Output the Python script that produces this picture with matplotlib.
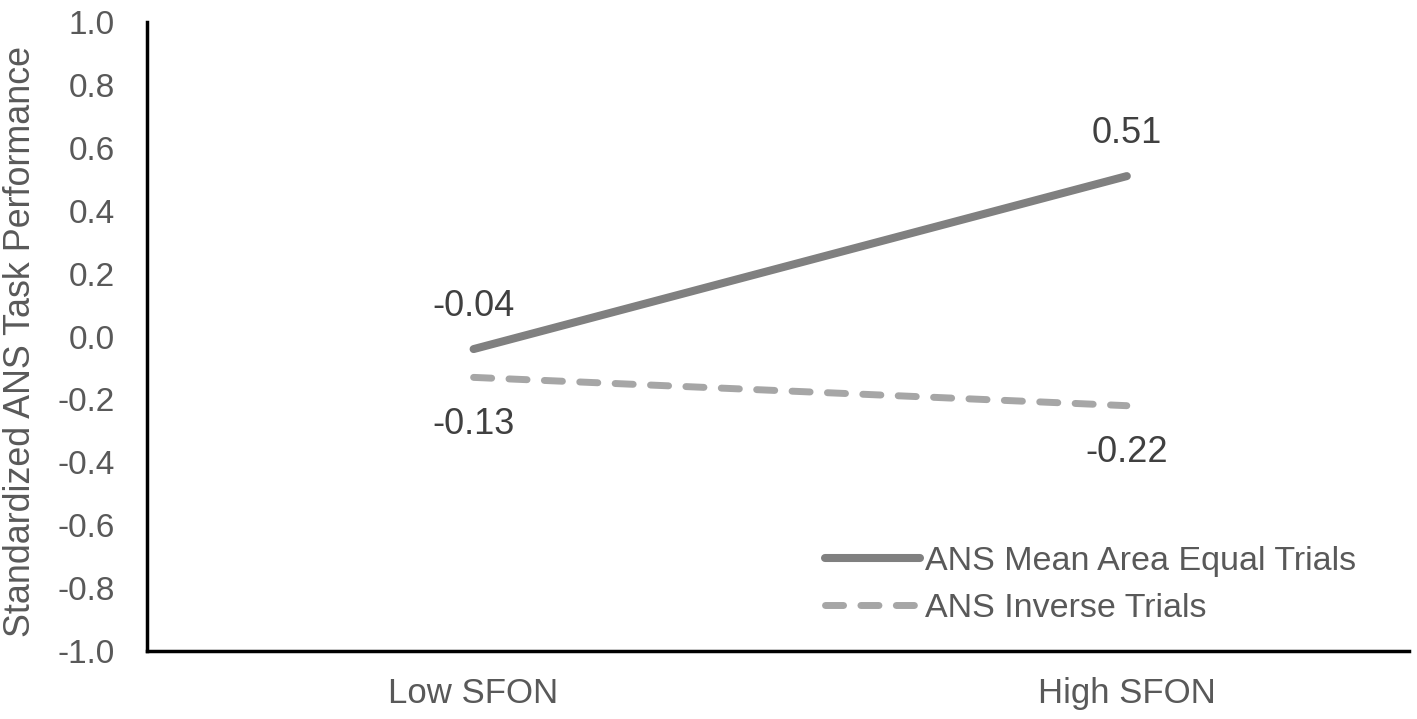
import matplotlib
matplotlib.use("Agg")
import matplotlib.pyplot as plt

categories = ["Low SFON", "High SFON"]
mean_area_equal = [-0.04, 0.51]
inverse = [-0.13, -0.22]
series_names = ["ANS Mean Area Equal Trials", "ANS Inverse Trials"]
yticks = [-1.0, -0.8, -0.6, -0.4, -0.2, 0.0, 0.2, 0.4, 0.6, 0.8, 1.0]

plt.rcParams['font.family'] = ['Liberation Sans', 'DejaVu Sans']
txt = '#595959'

W, H = 1417, 719
fig = plt.figure(figsize=(W / 100, H / 100), dpi=100)
ax = fig.add_axes([147/W, 1 - 651/H, (1409 - 147)/W, (651 - 22)/H])

x = list(range(len(categories)))
ax.plot(x, mean_area_equal, color='#808080', lw=5.8, solid_capstyle='round',
        label=series_names[0])
ax.plot(x, inverse, color='#a6a6a6', lw=5, dashes=(2.6, 2.5), dash_capstyle='round',
        label=series_names[1])

for xi, v in zip(x, mean_area_equal):
    ax.annotate(f"{v:.2f}", (xi, v), xytext=(0, 31), textcoords='offset points',
                ha='center', va='center', fontsize=26, color='#404040')
for xi, v in zip(x, inverse):
    ax.annotate(f"{v:.2f}", (xi, v), xytext=(0, -34), textcoords='offset points',
                ha='center', va='center', fontsize=26, color='#404040')

ax.set_xlim(-0.5, 1.432)
ax.set_ylim(-1.0, 1.0)
ax.set_xticks(x)
ax.set_xticklabels(categories)
ax.set_yticks(yticks)
ax.set_yticklabels([f"{t:.1f}" for t in yticks])
ax.tick_params(axis='both', length=0, labelcolor=txt)
ax.tick_params(axis='x', pad=19, labelsize=25)
ax.tick_params(axis='y', pad=23, labelsize=24)

for s in ['top', 'right']:
    ax.spines[s].set_visible(False)
for s in ['left', 'bottom']:
    ax.spines[s].set_linewidth(2.5)
    ax.spines[s].set_color('black')

ax.set_ylabel("Standardized ANS Task Performance", fontsize=25.8, color=txt)
ax.yaxis.set_label_coords(-0.0864, 0.4913)

leg = ax.legend(loc='center left', bbox_to_anchor=(825/W, 1 - 585/H),
                bbox_transform=fig.transFigure, frameon=False, borderpad=0,
                borderaxespad=0, fontsize=24.5, handlelength=2.8,
                handletextpad=0.15, labelspacing=0.45)
for t in leg.get_texts():
    t.set_color(txt)

fig.savefig("out.png", dpi=100)
